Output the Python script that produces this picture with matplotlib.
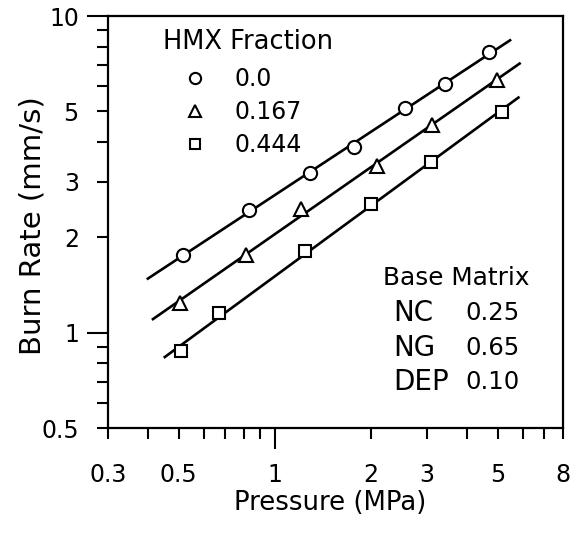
import numpy as np
import matplotlib
matplotlib.use("Agg")
import matplotlib.pyplot as plt
from matplotlib.ticker import FixedLocator, FuncFormatter

plt.rcParams['font.family'] = ['DejaVu Sans']

# ---- data ----
hmx_labels = ["0.0", "0.167", "0.444"]
markers = ["o", "^", "s"]

p_00 = [0.515, 0.83, 1.29, 1.77, 2.56, 3.41, 4.69]
r_00 = [1.76, 2.44, 3.19, 3.86, 5.12, 6.10, 7.69]

p_167 = [0.504, 0.81, 1.21, 2.09, 3.11, 4.98]
r_167 = [1.24, 1.76, 2.46, 3.36, 4.53, 6.30]

p_444 = [0.508, 0.67, 1.24, 2.00, 3.09, 5.15]
r_444 = [0.875, 1.15, 1.81, 2.55, 3.46, 4.97]

# fitted line extents (pressure range of each fit line)
fit_range_00 = [0.40, 5.46]
fit_range_167 = [0.415, 5.85]
fit_range_444 = [0.452, 5.80]

x_ticklabels = [0.3, 0.5, 1, 2, 3, 5, 8]
y_ticklabels = [0.5, 1, 2, 3, 5, 10]

base_names = ["NC", "NG", "DEP"]
base_values = ["0.25", "0.65", "0.10"]

series = [
    (p_00, r_00, fit_range_00),
    (p_167, r_167, fit_range_167),
    (p_444, r_444, fit_range_444),
]

W, H = 574, 535
fig = plt.figure(figsize=(W/100, H/100), dpi=100)
ax = fig.add_axes([108/W, 1-428/H, (563-108)/W, (428-16)/H])
ax.set_xscale('log')
ax.set_yscale('log')
ax.set_xlim(0.3, 8)
ax.set_ylim(0.5, 10)

handles = []
for (px, ry, fr), mk, lab in zip(series, markers, hmx_labels):
    lx, ly = np.log10(px), np.log10(ry)
    b, a = np.polyfit(lx, ly, 1)
    xs = np.array(fr)
    ax.plot(xs, 10**(a + b*np.log10(xs)), color='black', lw=1.9, zorder=2)
    h, = ax.plot(px, ry, linestyle='none', marker=mk,
                 markersize=(9.5 if mk != 's' else 9.0),
                 markerfacecolor='white', markeredgecolor='black',
                 markeredgewidth=1.5, zorder=3, label=lab)
    handles.append(h)

# ticks
def lab_fmt(vals):
    def f(v, pos):
        for t in vals:
            if abs(v - t) < 1e-9 * max(1, t):
                return ('%g' % t)
        return ''
    return f

x_major = [1]
x_minor = [0.3, 0.4, 0.5, 0.6, 0.7, 0.8, 0.9, 2, 3, 4, 5, 6, 7, 8]
y_major = [1, 10]
y_minor = [0.5, 0.6, 0.7, 0.8, 0.9, 2, 3, 4, 5, 6, 7, 8, 9]

ax.xaxis.set_major_locator(FixedLocator(x_major))
ax.xaxis.set_minor_locator(FixedLocator(x_minor))
ax.yaxis.set_major_locator(FixedLocator(y_major))
ax.yaxis.set_minor_locator(FixedLocator(y_minor))
for axis in (ax.xaxis, ax.yaxis):
    vals = x_ticklabels if axis is ax.xaxis else y_ticklabels
    axis.set_major_formatter(FuncFormatter(lab_fmt(vals)))
    axis.set_minor_formatter(FuncFormatter(lab_fmt(vals)))

ax.tick_params(which='major', direction='out', length=15, width=1.5,
               labelsize=17, top=False, right=False)
ax.tick_params(which='minor', direction='out', length=8, width=1.5,
               labelsize=17, top=False, right=False)
ax.tick_params(axis='x', which='major', pad=10)
ax.tick_params(axis='x', which='minor', pad=17)
ax.tick_params(axis='y', which='major', pad=6)
ax.tick_params(axis='y', which='minor', pad=13)

for s in ax.spines.values():
    s.set_linewidth(1.6)

ax.set_xlabel("Pressure (MPa)", fontsize=18.7)
ax.set_ylabel("Burn Rate (mm/s)", fontsize=21)
ax.xaxis.set_label_coords((330.5-108)/455, (428-490)/412)
ax.yaxis.set_label_coords((47-108)/455, 0.49)

leg = ax.legend(handles=handles, loc='upper left',
                bbox_to_anchor=((173.6-108)/455, 1-(58-16)/412),
                frameon=False, fontsize=17, handlelength=1.0,
                handletextpad=1.2, labelspacing=0.38,
                borderaxespad=0.0, markerscale=0.85)
fig.text(163/W, 1-42/H, "HMX Fraction", fontsize=18.5, va='center', ha='left')

# Base matrix annotation
fig.text(383/W, 1-278/H, "Base Matrix", fontsize=17.8, va='center', ha='left')
rows_y = [313, 348, 382]
for nm, val, yy in zip(base_names, base_values, rows_y):
    fig.text(393/W, 1-yy/H, nm, fontsize=20, va='center', ha='left')
    fig.text(465/W, 1-yy/H, val, fontsize=17.6, va='center', ha='left')

fig.savefig("out.png", dpi=100)
